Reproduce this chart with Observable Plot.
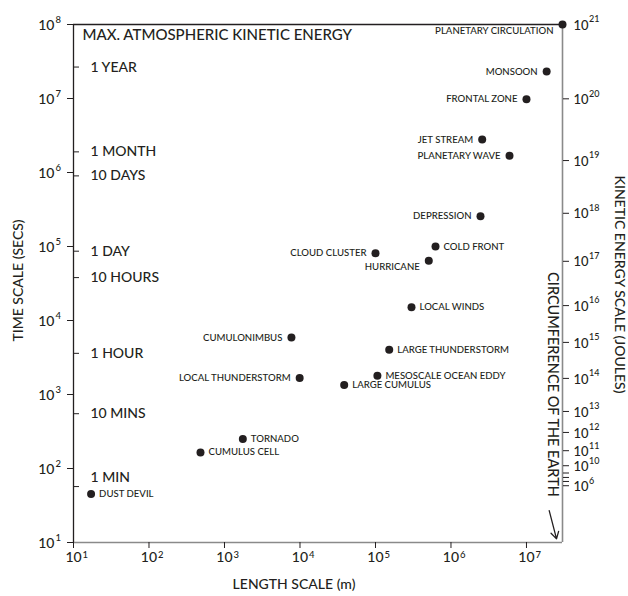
<!DOCTYPE html>
<html>
<head>
<meta charset="utf-8">
<script src="https://cdn.jsdelivr.net/npm/d3@7"></script>
<script src="https://cdn.jsdelivr.net/npm/@observablehq/plot@0.6"></script>
<style>
  html, body { margin: 0; padding: 0; background: #fff; overflow: hidden; }
  #chart svg { display: block; }
</style>
</head>
<body>
<div id="chart"></div>
<script>
// Atmospheric phenomena: characteristic length (m) and time (s)
const names = [
  "PLANETARY CIRCULATION", "MONSOON", "FRONTAL ZONE", "JET STREAM", "PLANETARY WAVE",
  "DEPRESSION", "COLD FRONT", "CLOUD CLUSTER", "HURRICANE", "LOCAL WINDS",
  "LARGE THUNDERSTORM", "MESOSCALE OCEAN EDDY", "LARGE CUMULUS", "CUMULONIMBUS",
  "LOCAL THUNDERSTORM", "TORNADO", "CUMULUS CELL", "DUST DEVIL"
];
const lengthM = [
  3.0e7, 1.85e7, 1.0e7, 2.59e6, 5.96e6,
  2.46e6, 6.24e5, 1.0e5, 5.08e5, 3.0e5,
  1.52e5, 1.06e5, 3.85e4, 7.7e3,
  9.9e3, 1.75e3, 481, 17.1
];
const timeS = [
  1.0e8, 2.31e7, 9.8e6, 2.79e6, 1.69e6,
  2.56e5, 1.0e5, 8.1e4, 6.44e4, 1.51e4,
  4.03e3, 1.79e3, 1.34e3, 5.9e3,
  1.67e3, 250, 165, 45.2
];

// Labels drawn to the left of their dot (the rest go to the right)
const leftLabelled = new Set([
  "MONSOON", "FRONTAL ZONE", "JET STREAM", "PLANETARY WAVE", "DEPRESSION",
  "CLOUD CLUSTER", "CUMULONIMBUS", "LOCAL THUNDERSTORM"
]);
// Labels drawn below-left of their dot
const belowLeftLabelled = new Set(["PLANETARY CIRCULATION", "HURRICANE"]);

// Named time marks along the time axis (seconds)
const timeTickLabels = ["1 YEAR", "1 MONTH", "10 DAYS", "1 DAY", "10 HOURS", "1 HOUR", "10 MINS", "1 MIN"];
const timeTickSecs = [2.66e7, 1.9e6, 9.0e5, 8.64e4, 3.8e4, 3600, 550, 57];

// Kinetic energy scale: exponent of 10 (joules) and its height on the time axis (seconds)
const energyExponents = [21, 20, 19, 18, 17, 16, 15, 14, 13, 12, 11, 10, 9, 8, 7, 6];
const energyTickSecs = [1.0e8, 9.9e6, 1.45e6, 2.81e5, 6.31e4, 1.59e4, 5.06e3, 1.65e3, 590, 307, 174, 109, 86.9, 75.7, 66.8, 58.5];

// Decade ticks
const xDecades = [1e1, 1e2, 1e3, 1e4, 1e5, 1e6, 1e7];
const yDecades = [1e1, 1e2, 1e3, 1e4, 1e5, 1e6, 1e7, 1e8];
const xDomain = [10, 3e7];
const yDomain = [10, 1e8];

// Arrow pointing down towards the Earth's circumference on the length axis
const earthArrow = [{x1: 2.0e7, y1: 27, x2: 2.5e7, y2: 11.2}];

const points = names.map((name, i) => ({name, length: lengthM[i], time: timeS[i]}));
const timeTicks = timeTickLabels.map((label, i) => ({label, t: timeTickSecs[i]}));
const energyTicks = energyExponents.map((e, i) => ({e, t: energyTickSecs[i]}));
const energyLabels = energyTicks.filter(d => d.e >= 10 || d.e === 6);
const exponent = d => String(Math.round(Math.log10(d)));

const ink = "#231f20";
const frameGrey = "#8a8a8a";
const font = "Lato, 'Open Sans', sans-serif";

const chart = Plot.plot({
  width: 628,
  height: 596,
  marginLeft: 73,
  marginRight: 66,
  marginTop: 24,
  marginBottom: 54,
  x: {type: "log", domain: xDomain, axis: null},
  y: {type: "log", domain: yDomain, axis: null},
  style: {fontFamily: font, fontWeight: 500, color: ink, background: "#fff", overflow: "visible"},
  marks: [
    // frame
    Plot.ruleX([xDomain[1]], {stroke: frameGrey, strokeWidth: 1.6}),
    Plot.ruleY([yDomain[0]], {stroke: frameGrey, strokeWidth: 1.6}),
    Plot.ruleY([yDomain[1]], {stroke: ink, strokeWidth: 1.3}),
    Plot.ruleX([xDomain[0]], {stroke: ink, strokeWidth: 1.3}),

    // tick marks
    Plot.axisY(yDecades, {anchor: "left", tickSize: 6, tickFormat: () => "", label: null, stroke: ink}),
    Plot.axisY(timeTickSecs, {anchor: "left", tickSize: 6, dx: 6, tickFormat: () => "", label: null, stroke: ink}),
    Plot.axisY(energyTickSecs.slice(1), {anchor: "right", tickSize: 6, tickFormat: () => "", label: null, stroke: ink}),
    Plot.axisX(xDecades, {anchor: "bottom", tickSize: 6, tickFormat: () => "", label: null, stroke: ink}),

    // left decade labels 10^n
    Plot.text(yDecades, {y: d => d, text: () => "10", frameAnchor: "left", textAnchor: "end", dx: -19, dy: 1, fontSize: 14, fill: ink}),
    Plot.text(yDecades, {y: d => d, text: exponent, frameAnchor: "left", textAnchor: "start", dx: -18, dy: -5, fontSize: 9.5, fill: ink}),

    // bottom decade labels 10^n
    Plot.text(xDecades, {x: d => d, text: () => "10", frameAnchor: "bottom", textAnchor: "middle", dy: 19.5, fontSize: 14, fill: ink}),
    Plot.text(xDecades, {x: d => d, text: exponent, frameAnchor: "bottom", textAnchor: "start", dx: 9, dy: 15.5, fontSize: 9.5, fill: ink}),

    // energy labels on the right
    Plot.text(energyLabels, {y: "t", text: () => "10", frameAnchor: "right", textAnchor: "start", dx: 11, dy: 1, fontSize: 13, fill: ink}),
    Plot.text(energyLabels, {y: "t", text: d => String(d.e), frameAnchor: "right", textAnchor: "start", dx: 26.5, dy: -5, fontSize: 9, fill: ink}),

    // named time marks
    Plot.text(timeTicks.filter(d => d.label !== "1 MIN"), {y: "t", text: "label", frameAnchor: "left", textAnchor: "start", dx: 17, fontSize: 14, fill: ink}),
    Plot.text(timeTicks.filter(d => d.label === "1 MIN"), {y: "t", text: "label", frameAnchor: "left", textAnchor: "start", dx: 17, dy: -9, fontSize: 14, fill: ink}),

    // phenomena
    Plot.dot(points, {x: "length", y: "time", r: 4, fill: ink, stroke: null}),
    Plot.text(points.filter(d => leftLabelled.has(d.name)), {x: "length", y: "time", text: "name", textAnchor: "end", dx: -9, fontSize: 9.6, fill: ink}),
    Plot.text(points.filter(d => belowLeftLabelled.has(d.name)), {x: "length", y: "time", text: "name", textAnchor: "end", dx: -9, dy: 6, fontSize: 9.6, fill: ink}),
    Plot.text(points.filter(d => !leftLabelled.has(d.name) && !belowLeftLabelled.has(d.name)), {x: "length", y: "time", text: "name", textAnchor: "start", dx: 8, fontSize: 9.6, fill: ink}),

    // titles
    Plot.text(["MAX. ATMOSPHERIC KINETIC ENERGY"], {frameAnchor: "top-left", textAnchor: "start", lineAnchor: "middle", dx: 9, dy: 11, fontSize: 15, fill: ink}),
    Plot.text(["TIME SCALE (SECS)"], {frameAnchor: "left", textAnchor: "middle", dx: -55, dy: -3, rotate: -90, fontSize: 14, fill: ink}),
    Plot.text(["LENGTH SCALE (m)"], {frameAnchor: "bottom", textAnchor: "middle", dx: -24, dy: 46, fontSize: 14, fill: ink}),
    Plot.text(["KINETIC ENERGY SCALE (JOULES)"], {frameAnchor: "right", textAnchor: "middle", dx: 56.5, dy: 1, rotate: 90, fontSize: 14, fill: ink}),
    Plot.text(["CIRCUMFERENCE OF THE EARTH"], {frameAnchor: "right", textAnchor: "middle", dx: -9.5, dy: 101, rotate: 90, fontSize: 14.5, fill: ink}),
    Plot.arrow(earthArrow, {x1: "x1", y1: "y1", x2: "x2", y2: "y2", stroke: ink, strokeWidth: 1.3, headLength: 9})
  ]
});

document.getElementById("chart").appendChild(chart);
</script>
</body>
</html>
